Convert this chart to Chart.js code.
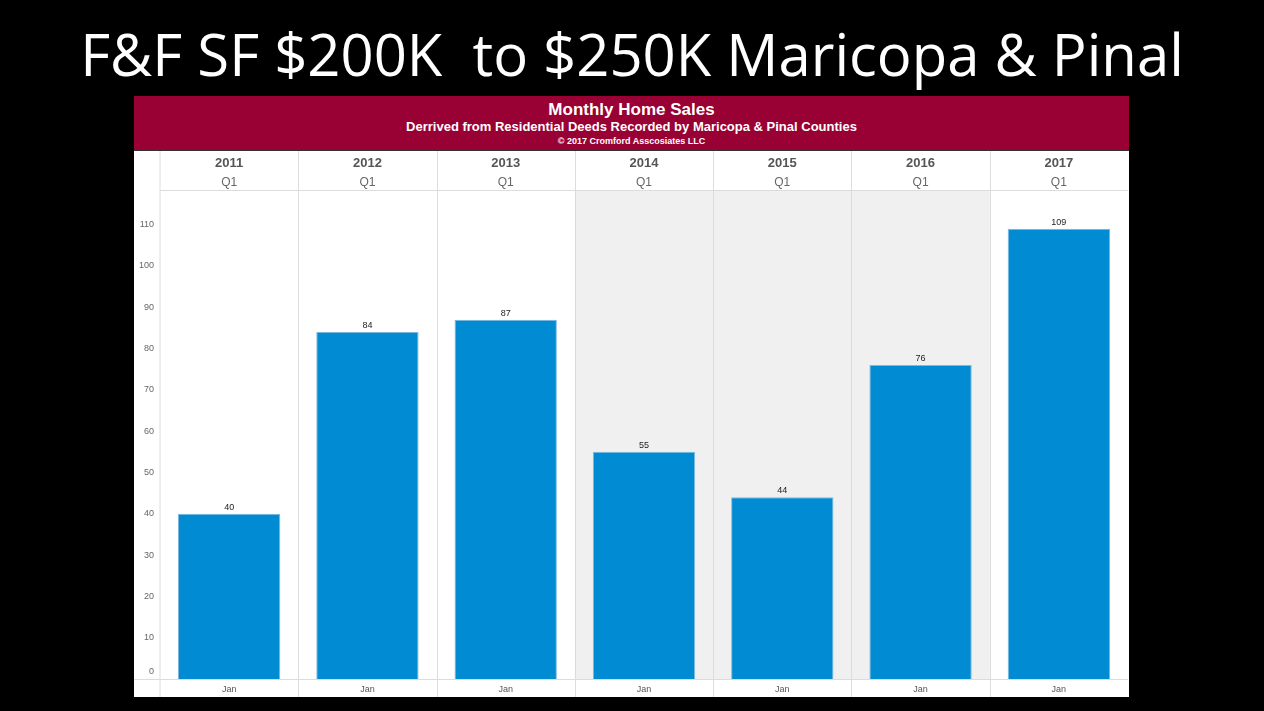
<!DOCTYPE html>
<html><head><meta charset="utf-8">
<script src="https://cdn.jsdelivr.net/npm/chart.js@4"></script>
<style>
body{margin:0;background:#000;width:1264px;height:711px;overflow:hidden;font-family:"Liberation Sans",Arial,sans-serif}
#title{position:absolute;left:0;top:16px;width:1264px;text-align:center;color:#fff;font-family:"Open Sans",sans-serif;font-size:58px;line-height:76px;white-space:pre}
#panel{position:absolute;left:134px;top:96px;width:995px;height:601px;background:#fff}
#hdr{height:55px;background:#990033;color:#fff;text-align:center;border-bottom:1px solid #333;box-sizing:border-box}
#h1{font-size:17px;font-weight:bold;padding-top:4px;line-height:19px}
#h2{font-size:13px;font-weight:bold;line-height:15px}
#h3{font-size:9px;font-weight:bold;line-height:14px}
#wrap{position:relative;width:995px;height:546px}
</style></head><body>
<div id="title">F&amp;F SF $200K  to $250K Maricopa &amp; Pinal</div>
<div id="panel">
<div id="hdr"><div id="h1">Monthly Home Sales</div><div id="h2">Derrived from Residential Deeds Recorded by Maricopa &amp; Pinal Counties</div><div id="h3">© 2017 Cromford Asscosiates LLC</div></div>
<div id="wrap"><canvas id="c"></canvas></div>
</div>
<script>
const years = ['2011','2012','2013','2014','2015','2016','2017'];
const quarters = ['Q1','Q1','Q1','Q1','Q1','Q1','Q1'];
const months = ['Jan','Jan','Jan','Jan','Jan','Jan','Jan'];
const sales = [40, 84, 87, 55, 44, 76, 109];
const shadedYears = ['2014','2015','2016'];
const yTicks = [0,10,20,30,40,50,60,70,80,90,100,110];

const decor = {
  id: 'decor',
  beforeDatasetsDraw(chart) {
    const {ctx, chartArea: a, scales: {x, y}} = chart;
    const w = x.width / years.length;
    ctx.save();
    years.forEach((yr, i) => {
      const cx = x.getPixelForValue(i);
      if (shadedYears.includes(yr)) {
        ctx.fillStyle = '#f0f0f0';
        ctx.fillRect(cx - w / 2, a.top, w, a.bottom - a.top);
      }
    });
    ctx.strokeStyle = '#dcdcdc';
    ctx.lineWidth = 1;
    for (let i = 1; i < years.length; i++) {
      const px = Math.round(a.left + i * w) + 0.5;
      ctx.beginPath(); ctx.moveTo(px, 0); ctx.lineTo(px, chart.height); ctx.stroke();
    }
    ctx.beginPath(); ctx.moveTo(a.left, 0); ctx.lineTo(a.left, chart.height); ctx.stroke();
    ctx.beginPath(); ctx.moveTo(a.left, a.top + 0.5); ctx.lineTo(a.right, a.top + 0.5); ctx.stroke();
    ctx.beginPath(); ctx.moveTo(0, a.bottom + 0.5); ctx.lineTo(a.right, a.bottom + 0.5); ctx.stroke();
    ctx.textAlign = 'center';
    years.forEach((yr, i) => {
      const cx = x.getPixelForValue(i);
      ctx.fillStyle = '#555';
      ctx.font = 'bold 13px "Liberation Sans", Arial';
      ctx.fillText(yr, cx, 16);
      ctx.font = '12px "Liberation Sans", Arial';
      ctx.fillStyle = '#666';
      ctx.fillText(quarters[i], cx, 35);
      ctx.font = '9px "Liberation Sans", Arial';
      ctx.fillStyle = '#555';
      ctx.fillText(months[i], cx, a.bottom + 13);
    });
    ctx.textAlign = 'right';
    ctx.textBaseline = 'middle';
    ctx.fillStyle = '#666';
    ctx.font = '9px "Liberation Sans", Arial';
    yTicks.forEach(v => ctx.fillText(v, a.left - 6, Math.min(y.getPixelForValue(v), a.bottom - 7)));
    ctx.restore();
  },
  afterDatasetsDraw(chart) {
    const {ctx} = chart;
    const meta = chart.getDatasetMeta(0);
    ctx.save();
    ctx.fillStyle = '#222';
    ctx.font = '9px "Liberation Sans", Arial';
    ctx.textAlign = 'center';
    meta.data.forEach((b, i) => ctx.fillText(sales[i], b.x, b.y - 4));
    ctx.restore();
  }
};

new Chart(document.getElementById('c'), {
  type: 'bar',
  data: {
    labels: months,
    datasets: [{
      data: sales,
      backgroundColor: '#008bd2',
      borderColor: '#7fb8dc',
      borderWidth: {top: 1, left: 1, right: 1, bottom: 0},
      barPercentage: 0.74,
      categoryPercentage: 1
    }]
  },
  options: {
    responsive: true,
    maintainAspectRatio: false,
    animation: false,
    layout: {padding: {top: 39, right: 1, left: 26, bottom: 18}},
    plugins: {legend: {display: false}, tooltip: {enabled: false}},
    scales: {
      x: {display: false},
      y: {display: false, min: 0, max: 118.4}
    }
  },
  plugins: [decor]
});
</script>
</body></html>
